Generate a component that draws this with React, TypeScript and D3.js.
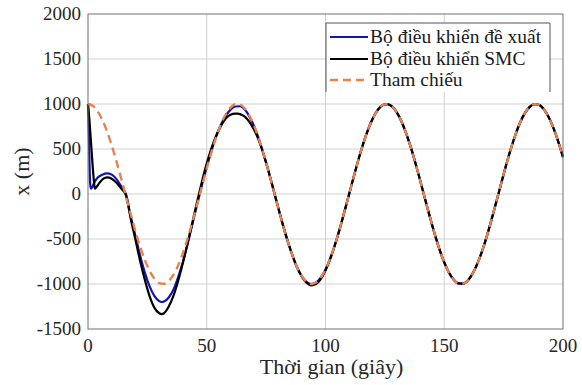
import React from 'react';
import * as d3 from 'd3';

// reference trajectory, sampled every 2 s from 0 to 200
const refTimes = d3.range(0, 201, 2);
const refValues = [
  1000, 980, 921, 825, 697, 540, 362, 170, -29, -227,
  -416, -589, -737, -857, -942, -990, -998, -967, -897, -791,
  -654, -490, -307, -112, 87, 284, 469, 635, 776, 886,
  960, 997, 993, 951, 869, 754, 608, 439, 252, 54,
  -146, -340, -519, -676, -811, -911, -975, -1000, -984, -930,
  -839, -714, -561, -385, -193, 4, 202, 394, 568, 720,
  844, 934, 987, 999, 973, 907, 806, 672, 512, 331,
  137, -63, -260, -446, -616, -760, -874, -953, -994, -996,
  -958, -882, -771, -630, -462, -276, -79, 120, 316, 498,
  661, 797, 901, 968, 999, 989, 939, 852, 731, 581,
  408,
];

// proposed controller (transient part, then it follows the reference)
const proposedTimes = [
  0, 0.3, 0.6, 0.9, 1.2, 1.7, 2.5, 4, 6, 8, 10, 12, 14, 16, 18, 20, 22, 24, 26, 28,
  30, 31, 32, 34, 36, 38, 40, 42, 44, 46, 48, 50, 52, 54, 56, 58, 60, 62, 64, 66,
  68, 70, 72, 74, 76, 78,
];
const proposedValues = [
  1000, 720, 380, 120, 60, 70, 120, 180, 215, 230, 215, 165, 85, -5, -250, -470, -690, -880, -1030, -1135,
  -1190, -1200, -1195, -1150, -1060, -920, -750, -550, -330, -110, 100, 300, 480, 640, 770, 870, 935, 972, 975, 938,
  860, 750, 606, 438, 252, 54,
];

// SMC controller (transient part, then it follows the reference)
const smcTimes = [
  0, 0.6, 1.2, 1.8, 2.4, 2.9, 3.5, 5, 6.5, 8, 10, 12, 14, 16, 18, 20, 22, 24, 26, 28,
  30, 31, 32, 34, 36, 38, 40, 42, 44, 46, 48, 50, 52, 54, 56, 58, 60, 62, 63, 64,
  66, 68, 70, 72, 74, 76, 78, 80, 82, 84, 86, 88, 90, 92, 94, 96, 98, 100, 102, 104, 106,
];
const smcValues = [
  1000, 820, 600, 370, 170, 60, 75, 130, 170, 185, 170, 125, 60, -15, -275, -510, -750, -960, -1140, -1265,
  -1325, -1335, -1325, -1250, -1130, -960, -760, -540, -310, -80, 140, 340, 510, 650, 760, 840, 880, 893, 893, 888,
  860, 800, 710, 590, 435, 255, 60, -140, -335, -515, -676, -815, -918, -985, -1015, -1000, -945, -850, -720, -565, -387,
];

const xTicks = [0, 50, 100, 150, 200];
const yTicks = [-1500, -1000, -500, 0, 500, 1000, 1500, 2000];

const legendLabels = ['Bộ điều khiển đề xuất', 'Bộ điều khiển SMC', 'Tham chiếu'];
const legendColors = ['#1414b4', '#000000', '#e8834e'];

type Pt = [number, number];

const withTail = (times: number[], values: number[]): Pt[] => {
  const pts: Pt[] = times.map((t, i) => [t, values[i]]);
  const last = times[times.length - 1];
  refTimes.forEach((t, i) => {
    if (t > last) pts.push([t, refValues[i]]);
  });
  return pts;
};

const left = 88, right = 563, top = 14, bottom = 329;
const textColor = '#262626';
const serif = (size: number): React.CSSProperties => ({ fontFamily: 'Liberation Serif', fontSize: `${size}px` });

const x = d3.scaleLinear().domain([0, 200]).range([left, right]);
const y = d3.scaleLinear().domain([-1500, 2000]).range([bottom, top]);

const line = d3.line<Pt>()
  .x(d => x(d[0]))
  .y(d => y(d[1]))
  .curve(d3.curveMonotoneX);

const App: React.FC = () => {
  const refPts: Pt[] = refTimes.map((t, i) => [t, refValues[i]]);
  const lx0 = 326, lx1 = 550, ly0 = 23, ly1 = 92;
  const rowY = [37, 59, 80];

  return (
    <svg width={582} height={385} style={{ position: 'absolute', left: 0, top: 0 }}>
      <rect width={582} height={385} fill="white" />

      {/* grid */}
      {xTicks.slice(1, -1).map(d => (
        <line key={'gx' + d} x1={x(d)} x2={x(d)} y1={top} y2={bottom} stroke="#d0d0d0" />
      ))}
      {yTicks.slice(1, -1).map(d => (
        <line key={'gy' + d} x1={left} x2={right} y1={y(d)} y2={y(d)} stroke="#d0d0d0" />
      ))}

      {/* series */}
      <path d={line(withTail(proposedTimes, proposedValues)) || ''} fill="none" stroke={legendColors[0]} strokeWidth={2.2} />
      <path d={line(withTail(smcTimes, smcValues)) || ''} fill="none" stroke={legendColors[1]} strokeWidth={2.2} />
      <path d={line(refPts) || ''} fill="none" stroke={legendColors[2]} strokeWidth={2.4} strokeDasharray="8,5" />

      {/* box */}
      <rect x={left} y={top} width={right - left} height={bottom - top} fill="none" stroke="#707070" />

      {/* tick labels */}
      {xTicks.map(d => (
        <text key={'tx' + d} x={x(d)} y={352} textAnchor="middle" style={serif(19)} fill={textColor}>{d}</text>
      ))}
      {yTicks.map(d => (
        <text key={'ty' + d} x={81} y={y(d) + 6} textAnchor="end" style={serif(19)} fill={textColor}>{d}</text>
      ))}

      {/* axis labels */}
      <text x={(left + right) / 2 + 6} y={374} textAnchor="middle" style={serif(22)} fill={textColor}>
        Thời gian (giây)
      </text>
      <text transform={`translate(29,${(top + bottom) / 2}) rotate(-90)`} textAnchor="middle" style={serif(22)} fill={textColor}>
        x (m)
      </text>

      {/* legend */}
      <rect x={lx0} y={ly0} width={lx1 - lx0} height={ly1 - ly0} fill="white" />
      <path d={`M${lx0},${ly1}V${ly0}H${lx1}V${ly1}`} fill="none" stroke="#555" />
      {legendLabels.map((lab, i) => (
        <g key={lab}>
          <line
            x1={330} x2={368} y1={rowY[i]} y2={rowY[i]}
            stroke={legendColors[i]}
            strokeWidth={i === 2 ? 2.4 : 2.2}
            strokeDasharray={i === 2 ? '8,5' : undefined}
          />
          <text x={370} y={rowY[i] + 6} style={serif(19.5)} fill="#1a1a1a">{lab}</text>
        </g>
      ))}
    </svg>
  );
};

export default App;
